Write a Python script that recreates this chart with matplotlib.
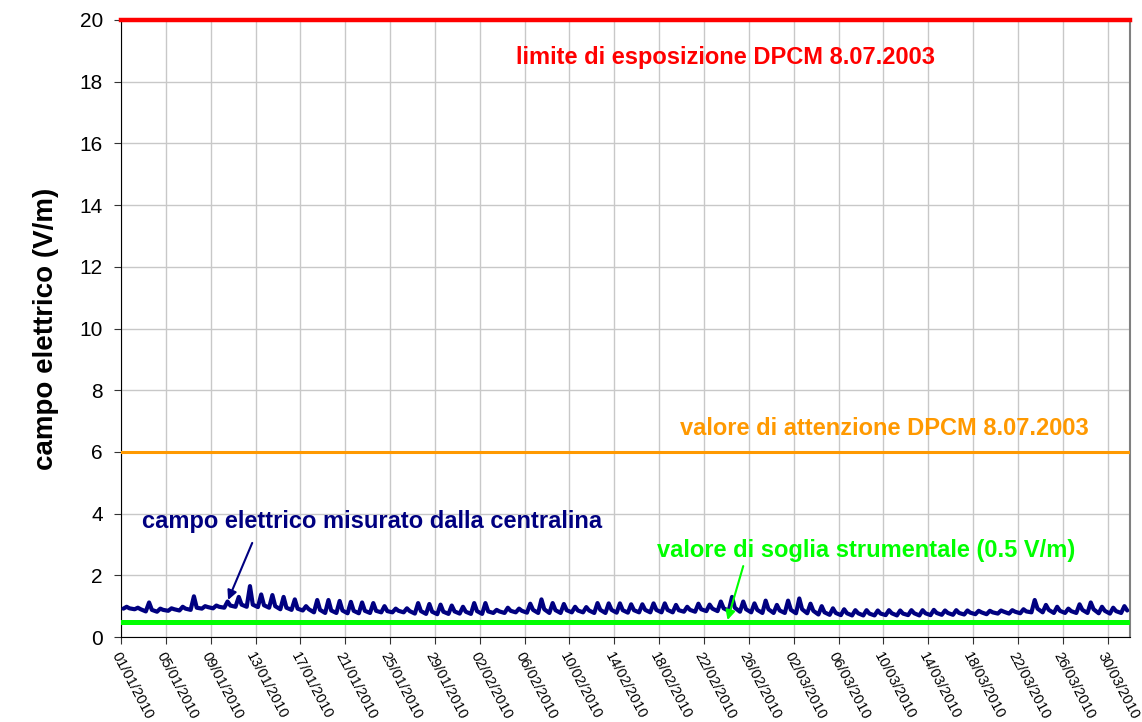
import datetime as dt
import matplotlib
matplotlib.use("Agg")
import matplotlib.pyplot as plt
import matplotlib.dates as mdates

plt.rcParams['font.family'] = ['Liberation Sans', 'DejaVu Sans']

# ---- data -------------------------------------------------------------
start_date = dt.datetime(2010, 1, 1)
end_date = dt.datetime(2010, 4, 1)

# daily readings of the measured field (V/m): early-morning low, midday peak, evening
low = [0.92, 0.90, 0.83, 0.82, 0.85, 0.86, 0.88, 0.92, 0.93, 0.95,
       0.98, 0.98, 0.97, 0.95, 0.90, 0.88, 0.86, 0.80, 0.78, 0.78,
       0.77, 0.77, 0.78, 0.80, 0.80, 0.80, 0.76, 0.75, 0.74, 0.75,
       0.76, 0.75, 0.75, 0.78, 0.78, 0.80, 0.79, 0.78, 0.78, 0.78,
       0.80, 0.80, 0.78, 0.78, 0.79, 0.79, 0.80, 0.80, 0.80, 0.80,
       0.82, 0.82, 0.84, 0.84, 0.85, 0.82, 0.80, 0.78, 0.78, 0.78,
       0.77, 0.77, 0.73, 0.72, 0.71, 0.70, 0.70, 0.70, 0.71, 0.70,
       0.71, 0.70, 0.71, 0.72, 0.72, 0.73, 0.74, 0.74, 0.76, 0.76,
       0.77, 0.80, 0.80, 0.78, 0.78, 0.78, 0.78, 0.77, 0.76, 0.78]
peak = [0.98, 0.95, 1.12, 0.92, 0.93, 0.98, 1.32, 1.00, 1.02, 1.15,
        1.30, 1.65, 1.38, 1.36, 1.30, 1.22, 1.00, 1.20, 1.20, 1.17,
        1.14, 1.12, 1.10, 1.00, 0.92, 0.93, 1.10, 1.07, 1.05, 1.02,
        0.98, 1.10, 1.10, 0.88, 0.95, 0.92, 1.08, 1.22, 1.10, 1.07,
        0.98, 0.97, 1.10, 1.09, 1.09, 1.06, 1.06, 1.09, 1.09, 1.04,
        0.98, 1.08, 1.05, 1.15, 1.30, 1.15, 1.09, 1.18, 1.04, 1.18,
        1.25, 1.08, 1.00, 0.93, 0.90, 0.87, 0.87, 0.86, 0.87, 0.86,
        0.87, 0.87, 0.88, 0.86, 0.87, 0.86, 0.85, 0.85, 0.86, 0.87,
        0.90, 1.20, 1.04, 0.98, 0.92, 1.06, 1.12, 0.98, 0.95, 1.00]
eve = [0.93, 0.90, 0.88, 0.88, 0.90, 0.92, 0.95, 0.97, 0.98, 1.02,
       1.05, 1.05, 1.03, 1.00, 0.95, 0.92, 0.90, 0.88, 0.86, 0.86,
       0.85, 0.85, 0.85, 0.84, 0.85, 0.84, 0.84, 0.82, 0.82, 0.83,
       0.82, 0.84, 0.83, 0.83, 0.85, 0.85, 0.88, 0.90, 0.87, 0.87,
       0.86, 0.86, 0.88, 0.88, 0.87, 0.87, 0.88, 0.88, 0.88, 0.87,
       0.88, 0.90, 0.92, 0.93, 0.95, 0.90, 0.88, 0.90, 0.86, 0.88,
       0.90, 0.85, 0.80, 0.78, 0.77, 0.77, 0.76, 0.76, 0.77, 0.76,
       0.77, 0.77, 0.78, 0.78, 0.78, 0.79, 0.80, 0.80, 0.82, 0.82,
       0.83, 0.92, 0.88, 0.85, 0.84, 0.88, 0.90, 0.85, 0.84, 0.86]
sample_hours = [5, 12, 18]

limite_esposizione = 20.0
valore_attenzione = 6.0
soglia_strumentale = 0.5

label_limite = "limite di esposizione DPCM 8.07.2003"
label_attenzione = "valore di attenzione DPCM 8.07.2003"
label_misura = "campo elettrico misurato dalla centralina"
label_soglia = "valore di soglia strumentale (0.5 V/m)"
y_label = "campo elettrico (V/m)"

# ---- build series -----------------------------------------------------
times, values = [], []
for i, (lo, pk, ev) in enumerate(zip(low, peak, eve)):
    day = start_date + dt.timedelta(days=i)
    for h, v in zip(sample_hours, (lo, pk, ev)):
        times.append(day + dt.timedelta(hours=h))
        values.append(v)

# ---- plot ---------------------------------------------------------------
fig = plt.figure(figsize=(11.42, 7.22), dpi=100)
ax = fig.add_axes([0.106, 0.1177, 0.8835, 0.8546])

ax.grid(True, color='#c8c8c8', linewidth=1.0, zorder=0)
ax.set_axisbelow(True)

ax.axhline(limite_esposizione, color='#ff0000', linewidth=3.2, zorder=3, clip_on=False)
ax.axhline(valore_attenzione, color='#ff9900', linewidth=2.2, zorder=3)
ax.axhline(soglia_strumentale, color='#00ff00', linewidth=3.6, zorder=3)
ax.plot(times, values, color='#000080', linewidth=3.0, zorder=4,
        solid_joinstyle='round', solid_capstyle='round')

ax.set_xlim(start_date, end_date)
ax.set_ylim(0, 20)
ax.set_yticks(range(0, 21, 2))
ticks = [start_date + dt.timedelta(days=4 * k) for k in range(23)]
ax.set_xticks(ticks)
ax.xaxis.set_major_formatter(mdates.DateFormatter('%d/%m/%Y'))

ax.tick_params(axis='y', labelsize=15, length=5, direction='out', color='#333333', pad=8)
ax.tick_params(axis='x', labelsize=10.5, length=5, direction='out', color='#333333', pad=4)
for lab in ax.get_xticklabels():
    lab.set_rotation(-62)
    lab.set_ha('left')
    lab.set_va('top')
    lab.set_rotation_mode('anchor')

ax.spines['top'].set_visible(False)
ax.spines['right'].set_color('#808080')
ax.spines['right'].set_linewidth(1.5)
ax.spines['left'].set_color('black')
ax.spines['bottom'].set_color('black')

ax.set_ylabel(y_label, fontsize=20, fontweight='bold', labelpad=15)

def dx(d):
    return start_date + dt.timedelta(days=d)

ax.text(dx(35.2), 18.8, label_limite, color='#ff0000', fontsize=17,
        fontweight='bold', ha='left', va='center')
ax.text(dx(49.9), 6.77, label_attenzione, color='#ff9900', fontsize=17,
        fontweight='bold', ha='left', va='center')
ax.text(dx(1.9), 3.73, label_misura, color='#000080', fontsize=17,
        fontweight='bold', ha='left', va='center')
ax.text(dx(47.8), 2.79, label_soglia, color='#00ff00', fontsize=17,
        fontweight='bold', ha='left', va='center')

ax.annotate('', xy=(dx(9.55), 1.2), xytext=(dx(11.7), 3.05),
            arrowprops=dict(arrowstyle='-|>', color='#000080', lw=1.5,
                            mutation_scale=14, shrinkA=0, shrinkB=0), zorder=5)
ax.annotate('', xy=(dx(54.1), 0.55), xytext=(dx(55.5), 2.3),
            arrowprops=dict(arrowstyle='-|>', color='#00ff00', lw=1.5,
                            mutation_scale=14, shrinkA=0, shrinkB=0), zorder=5)

fig.savefig('out.png', dpi=100)
